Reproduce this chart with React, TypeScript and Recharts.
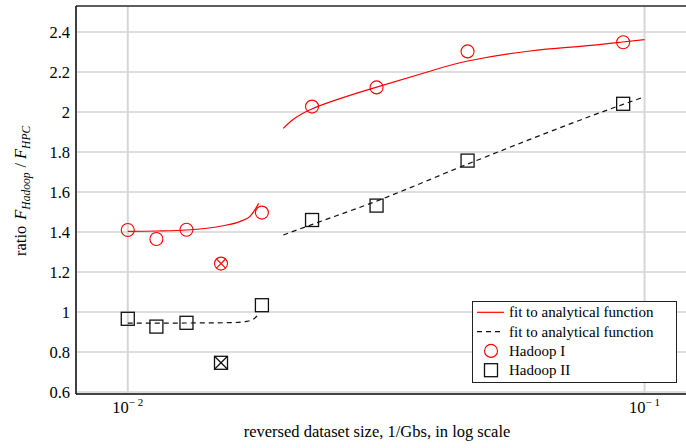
import { ComposedChart, Line, Scatter, XAxis, YAxis, CartesianGrid } from "recharts";

// reversed dataset size (1/Gbs) of each measurement
const sizes = [0.01, 0.01136, 0.01299, 0.01818, 0.02273, 0.0303, 0.04545, 0.09091];
const hadoopI = [1.41, 1.365, 1.411, 1.497, 2.027, 2.123, 2.303, 2.349];
const hadoopII = [0.966, 0.927, 0.946, 1.034, 1.46, 1.532, 1.757, 2.041];

// excluded (crossed) points
const outlierSizes = [0.01515];
const hadoopIOut = [1.242];
const hadoopIIOut = [0.746];

// fitted curves
const fitIaX = [0.01, 0.01138, 0.013, 0.0152, 0.01647, 0.01722, 0.01769, 0.01792];
const fitIaY = [1.403, 1.405, 1.41, 1.43, 1.452, 1.477, 1.518, 1.543];
const fitIbX = [0.02, 0.0227, 0.0302, 0.038, 0.0455, 0.06, 0.075, 0.0906, 0.1];
const fitIbY = [1.918, 2.015, 2.123, 2.2, 2.255, 2.305, 2.328, 2.35, 2.362];
const fitIIaX = [0.01, 0.013, 0.01596, 0.01697, 0.01748, 0.01787];
const fitIIaY = [0.944, 0.945, 0.947, 0.953, 0.963, 0.985];
const fitIIbX = [0.02, 0.0227, 0.0302, 0.0455, 0.0906, 0.1];
const fitIIbY = [1.385, 1.437, 1.553, 1.74, 2.037, 2.076];

const MAJOR_X = [0.01, 0.1];
const MINOR_X = [0.008, 0.009, 0.01, 0.02, 0.03, 0.04, 0.05, 0.06, 0.07, 0.08, 0.09, 0.1];
const Y_TICKS = [0.6, 0.8, 1, 1.2, 1.4, 1.6, 1.8, 2, 2.2, 2.4];
const X_DOMAIN = [0.00794, 0.123];
const Y_DOMAIN = [0.59, 2.53];

const RED = "#ff0000";
const FONT = '"Liberation Serif", "DejaVu Serif", serif';
const FS = 16.5;

const zip = (xs: number[], ys: number[]) => xs.map((x, i) => ({ x, y: ys[i] }));

const ptsI = zip(sizes, hadoopI);
const ptsII = zip(sizes, hadoopII);
const outI = zip(outlierSizes, hadoopIOut);
const outII = zip(outlierSizes, hadoopIIOut);

// eslint-disable-next-line @typescript-eslint/no-explicit-any
const CircleMark = (p: any) => (
  <circle cx={p.cx} cy={p.cy} r={6.5} fill="none" stroke={RED} strokeWidth={1.1} />
);
// eslint-disable-next-line @typescript-eslint/no-explicit-any
const CrossCircleMark = (p: any) => {
  const d = 4.6;
  return (
    <g stroke={RED} strokeWidth={1.1} fill="none">
      <circle cx={p.cx} cy={p.cy} r={6.5} />
      <line x1={p.cx - d} y1={p.cy - d} x2={p.cx + d} y2={p.cy + d} />
      <line x1={p.cx - d} y1={p.cy + d} x2={p.cx + d} y2={p.cy - d} />
    </g>
  );
};
// eslint-disable-next-line @typescript-eslint/no-explicit-any
const SquareMark = (p: any) => (
  <rect x={p.cx - 6.5} y={p.cy - 6.5} width={13} height={13} fill="none" stroke="#111" strokeWidth={1.3} />
);
// eslint-disable-next-line @typescript-eslint/no-explicit-any
const CrossSquareMark = (p: any) => (
  <g stroke="#111" strokeWidth={1.3} fill="none">
    <rect x={p.cx - 6.5} y={p.cy - 6.5} width={13} height={13} />
    <line x1={p.cx - 6.5} y1={p.cy - 6.5} x2={p.cx + 6.5} y2={p.cy + 6.5} />
    <line x1={p.cx - 6.5} y1={p.cy + 6.5} x2={p.cx + 6.5} y2={p.cy - 6.5} />
  </g>
);

// eslint-disable-next-line @typescript-eslint/no-explicit-any
const PowerTick = (p: any) => {
  const exp = Math.round(Math.log10(p.payload.value));
  return (
    <text x={p.x} y={p.y + 19} textAnchor="middle" fill="#000" fontSize={FS} fontFamily={FONT}>
      <tspan>10</tspan>
      <tspan dy={-7} fontSize={11}>{"\u2212 " + Math.abs(exp)}</tspan>
    </text>
  );
};

// eslint-disable-next-line @typescript-eslint/no-explicit-any
const NumTick = (p: any) => (
  <text x={p.x} y={p.y + 5.5} textAnchor="end" fill="#000" fontSize={FS} fontFamily={FONT}>
    {String(p.payload.value)}
  </text>
);

const XLabel = () => (
  <text x={377} y={437} textAnchor="middle" fill="#000" fontSize={FS} fontFamily={FONT}>
    reversed dataset size, 1/Gbs, in log scale
  </text>
);

const YLabel = () => (
  <text x={26} y={256} transform="rotate(-90, 26, 256)" fill="#000" fontSize={FS} fontFamily={FONT}>
    <tspan>ratio</tspan>
    <tspan dx={6} fontStyle="italic">F</tspan>
    <tspan dy={4} fontSize={11.5} fontStyle="italic">Hadoop</tspan>
    <tspan dy={-4} dx={5}>/</tspan>
    <tspan dx={4} fontStyle="italic">F</tspan>
    <tspan dy={4} fontSize={11.5} fontStyle="italic">HPC</tspan>
  </text>
);

const legendRows = [
  { label: "fit to analytical function", kind: "red" },
  { label: "fit to analytical function", kind: "dash" },
  { label: "Hadoop I", kind: "circle" },
  { label: "Hadoop II", kind: "square" },
];

function LegendBox() {
  return (
    <div
      style={{
        position: "absolute", left: 472, top: 301, width: 205, height: 82,
        boxSizing: "border-box", border: "1.3px solid #222", background: "#fff",
      }}
    >
      <svg width={203} height={80} style={{ position: "absolute", left: 0, top: 0 }}>
        {legendRows.map((r, i) => {
          const cy = 10.3 + i * 19.3;
          return (
            <g key={i}>
              {r.kind === "red" && <line x1={4} y1={cy} x2={31} y2={cy} stroke={RED} strokeWidth={1.2} />}
              {r.kind === "dash" && <line x1={4} y1={cy} x2={31} y2={cy} stroke="#111" strokeWidth={1.2} strokeDasharray="5 4" />}
              {r.kind === "circle" && <circle cx={18} cy={cy} r={6.5} fill="none" stroke={RED} strokeWidth={1.1} />}
              {r.kind === "square" && <rect x={11.5} y={cy - 6.5} width={13} height={13} fill="none" stroke="#111" strokeWidth={1.3} />}
              <text x={36} y={cy + 5} fill="#000" fontSize={15} fontFamily={FONT}>{r.label}</text>
            </g>
          );
        })}
      </svg>
    </div>
  );
}

export default function App() {
  return (
    <div style={{ position: "absolute", left: 0, top: 0, width: 686, height: 448, overflow: "hidden", background: "#fff", fontFamily: FONT }}>
      <ComposedChart width={700} height={448} margin={{ top: 6, right: 9, bottom: 24, left: 0 }} style={{ fontFamily: FONT }}>
        <CartesianGrid xAxisId="x" vertical={false} stroke="#bdbdbd" strokeWidth={1} />
        <CartesianGrid xAxisId="x" horizontal={false} stroke="#d6d6d6" strokeWidth={2} />
        <XAxis
          xAxisId="x" dataKey="x" type="number" scale="log" domain={X_DOMAIN} allowDataOverflow
          ticks={MAJOR_X} tick={<PowerTick />} tickLine={false} tickSize={0} tickMargin={0}
          axisLine={{ stroke: "#111", strokeWidth: 1.3 }} height={30} label={<XLabel />}
        />
        <XAxis
          xAxisId="minorB" dataKey="x" type="number" scale="log" domain={X_DOMAIN} allowDataOverflow
          orientation="bottom" mirror ticks={MINOR_X} tick={false} tickSize={4}
          tickLine={{ stroke: "#888" }} axisLine={false}
        />
        <XAxis
          xAxisId="minorT" dataKey="x" type="number" scale="log" domain={X_DOMAIN} allowDataOverflow
          orientation="top" mirror ticks={MINOR_X} tick={false} tickSize={4}
          tickLine={{ stroke: "#888" }} axisLine={{ stroke: "#333", strokeWidth: 1.5 }}
        />
        <YAxis
          dataKey="y" type="number" domain={Y_DOMAIN} allowDataOverflow ticks={Y_TICKS}
          width={76} tickLine={false} tickSize={0} tickMargin={6} tick={<NumTick />}
          axisLine={{ stroke: "#000", strokeWidth: 1.4 }} label={<YLabel />}
        />
        <Line xAxisId="x" data={zip(fitIaX, fitIaY)} dataKey="y" type="monotone" stroke={RED} strokeWidth={1.2} dot={false} activeDot={false} isAnimationActive={false} />
        <Line xAxisId="x" data={zip(fitIbX, fitIbY)} dataKey="y" type="natural" stroke={RED} strokeWidth={1.2} dot={false} activeDot={false} isAnimationActive={false} />
        <Line xAxisId="x" data={zip(fitIIaX, fitIIaY)} dataKey="y" type="monotone" stroke="#111" strokeWidth={1.2} strokeDasharray="5 4" dot={false} activeDot={false} isAnimationActive={false} />
        <Line xAxisId="x" data={zip(fitIIbX, fitIIbY)} dataKey="y" type="monotone" stroke="#111" strokeWidth={1.2} strokeDasharray="5 4" dot={false} activeDot={false} isAnimationActive={false} />
        <Scatter xAxisId="x" data={ptsI} dataKey="y" shape={<CircleMark />} isAnimationActive={false} />
        <Scatter xAxisId="x" data={outI} dataKey="y" shape={<CrossCircleMark />} isAnimationActive={false} />
        <Scatter xAxisId="x" data={ptsII} dataKey="y" shape={<SquareMark />} isAnimationActive={false} />
        <Scatter xAxisId="x" data={outII} dataKey="y" shape={<CrossSquareMark />} isAnimationActive={false} />
      </ComposedChart>
      <LegendBox />
    </div>
  );
}
